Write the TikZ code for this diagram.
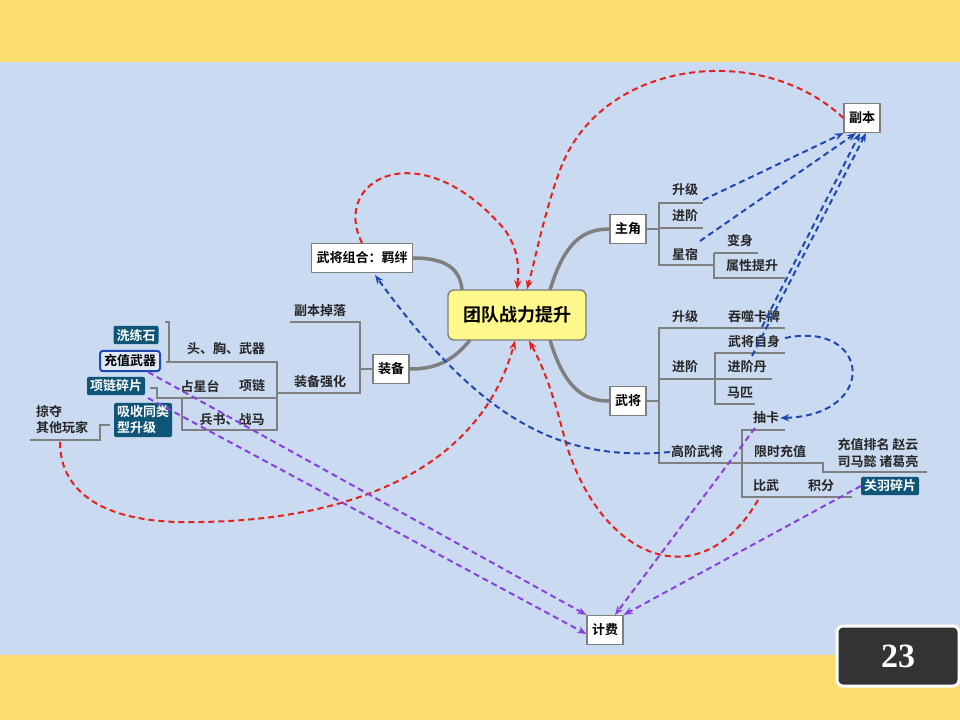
\documentclass[tikz,border=0pt]{standalone}
\usepackage{fontspec}
\setmainfont{Noto Sans CJK SC}
\newfontfamily\cjkb{Noto Sans CJK SC Bold}
\usetikzlibrary{arrows.meta}
\definecolor{bgblue}{HTML}{C9DAF1}
\definecolor{bgyel}{HTML}{FCDD6E}
\definecolor{teal}{HTML}{0E5578}
\definecolor{gline}{HTML}{7F7F7F}
\definecolor{rdash}{HTML}{E8201C}
\definecolor{bdash}{HTML}{1F49B0}
\definecolor{pdash}{HTML}{8A3FE0}
\begin{document}
\begin{tikzpicture}[x=1pt,y=-1pt,
 box/.style={draw=gline,fill=white,line width=1.2pt,font=\cjkb\fontsize{13}{14}\selectfont,inner sep=5pt,minimum height=29pt},
 lbl/.style={font=\cjkb\fontsize{13}{16}\selectfont,inner sep=1pt,text=black!85},
 tbox/.style={fill=teal,rounded corners=2pt,text=white,font=\cjkb\fontsize{13}{16}\selectfont,inner sep=3pt},
 tree/.style={draw=gline,line width=1.4pt},
 dsh/.style={dash pattern=on 6pt off 4pt,line width=2pt,-{Stealth[length=9pt,width=7pt]}},
 rd/.style={draw=rdash,dsh},
 bd/.style={draw=bdash,dsh},
 pd/.style={draw=pdash,dsh}]
\useasboundingbox (0,0) rectangle (960,720);
\fill[bgyel] (0,0) rectangle (960,720);
\fill[bgblue] (0,62) rectangle (960,655);
% main nodes
\node[draw=gline,fill=yellow!45,rounded corners=6pt,line width=1.4pt,minimum width=138pt,minimum height=50pt,font=\cjkb\fontsize{18}{20}\selectfont] (c) at (517,315) {团队战力提升};
\node[box] (zj) at (628,229) {主角};
\node[box] (wj) at (628,401) {武将};
\node[box] (zb) at (391,369) {装备};
\node[box] (jb) at (362,258) {武将组合：羁绊};
\node[box] (fb) at (862,118) {副本};
\node[box] (jf) at (605,630) {计费};
% thick branches
\draw[gline,line width=3.5pt] (462,290) .. controls (460,268) and (445,258) .. (jb.east);
\draw[gline,line width=3.5pt] (470,340) .. controls (450,365) and (430,369) .. (zb.east);
\draw[gline,line width=3.5pt] (550,290) .. controls (565,240) and (585,229) .. (zj.west);
\draw[gline,line width=3.5pt] (550,340) .. controls (565,390) and (585,401) .. (wj.west);
% 主角 subtree
\draw[tree] (zj.east) -- (659,229);
\draw[tree] (703,203) -- (659,203) -- (659,265) -- (714,265) -- (714,278) -- (785,278);
\draw[tree] (659,228) -- (703,228);
\draw[tree] (714,253) -- (758,253) (714,253)--(714,265);
\node[lbl] (sj1) at (685,190) {升级};
\node[lbl] (jj1) at (685,216) {进阶};
\node[lbl] (xs) at (685,254) {星宿};
\node[lbl] (bs) at (740,241) {变身};
\node[lbl] (sx) at (752,266) {属性提升};
% 武将 subtree
\draw[tree] (wj.east) -- (659,401);
\draw[tree] (785,328) -- (659,328) -- (659,463) -- (823,463) -- (823,472) -- (927,472);
\draw[tree] (659,379) -- (772,379);
\draw[tree] (785,353) -- (715,353) -- (715,404) -- (755,404);
\draw[tree] (785,430) -- (742,430) -- (742,497) -- (852,497);
\node[lbl] (sj2) at (685,317) {升级};
\node[lbl] (ts) at (754,317) {吞噬卡牌};
\node[lbl] (jj2) at (685,367) {进阶};
\node[lbl] (zs) at (754,342) {武将自身};
\node[lbl] (jjd) at (747,367) {进阶丹};
\node[lbl] (mp) at (740,393) {马匹};
\node[lbl] (gj) at (697,452) {高阶武将};
\node[lbl] (ck) at (766,418) {抽卡};
\node[lbl] (xc) at (780,452) {限时充值};
\node[lbl,align=left,font=\cjkb\fontsize{13}{17}\selectfont] (pm) at (878,453) {充值排名 赵云\\司马懿 诸葛亮};
\node[lbl] (bw) at (766,486) {比武};
\node[lbl] (jfen) at (821,486) {积分};
\node[tbox] (gy) at (890,486) {关羽碎片};
% 装备 subtree
\draw[tree] (zb.west) -- (360,369);
\draw[tree] (290,322) -- (360,322) -- (360,393) -- (277,393);
\draw[tree] (166,362) -- (277,362) -- (277,430) -- (182,430) -- (182,398);
\draw[tree] (277,398) -- (157,398) -- (157,388) -- (150,388);
\draw[tree] (165,322) -- (169,322) -- (169,362);
\draw[tree] (30,440) -- (100,440) -- (100,425) -- (110,425);
\node[lbl] (fbd) at (320,311) {副本掉落};
\node[lbl] (zbq) at (320,382) {装备强化};
\node[lbl] (tx) at (226,349) {头、胸、武器};
\node[lbl] (zxt) at (200,386) {占星台};
\node[lbl] (xl) at (252,386) {项链};
\node[lbl] (bsz) at (232,420) {兵书、战马};
\node[tbox] (xls) at (136,335) {洗练石};
\node[draw=bdash,line width=2pt,fill=bgblue!60,rounded corners=3pt,font=\cjkb\fontsize{13}{16}\selectfont,inner sep=4pt] (czwq) at (130,361) {充值武器};
\node[tbox] (xlsp) at (116,386) {项链碎片};
\node[tbox,align=left] (xs2) at (143,420) {吸收同类\\型升级};
\node[lbl,align=left] (ld) at (62,420) {掠夺\\其他玩家};
% red dashed
\draw[rd] (jb.north) .. controls (330,180) and (420,130) .. (505,230) .. controls (515,245) and (520,260) .. (c.north);
\draw[rd] (fb.west) .. controls (760,40) and (600,60) .. (560,170) .. controls (545,210) and (535,260) .. ([xshift=10pt]c.north);
\draw[rd] (60,442) .. controls (60,490) and (100,525) .. (200,522) .. controls (350,520) and (480,470) .. ([xshift=-2pt]c.south);
\draw[rd] (758,500) .. controls (700,600) and (600,560) .. (565,440) .. controls (555,400) and (545,370) .. ([xshift=12pt]c.south);
% blue dashed
\draw[bd] (703,200) -- (fb.south west);
\draw[bd] (700,241) -- ([xshift=-6pt]fb.south);
\draw[bd] (762,327) -- ([xshift=-2pt]fb.south);
\draw[bd] (752,356) -- ([xshift=4pt]fb.south);
\draw[bd] (785,338) .. controls (870,320) and (880,415) .. (ck.east);
\draw[bd] (gj.west) .. controls (560,462) and (480,420) .. (375,275);
% purple dashed
\draw[pd] (148,372) -- (jf.north west);
\draw[pd] (148,398) -- ([yshift=-4pt]jf.west);
\draw[pd] (755,428) -- ([xshift=10pt]jf.north);
\draw[pd] (gy.west) -- (jf.north east);
% badge
\node[draw=white,line width=3pt,fill=black!80,rounded corners=6pt,minimum width=122pt,minimum height=60pt,text=white] (pg) at (898,656) {\fontspec{Liberation Serif}\bfseries\fontsize{34}{36}\selectfont 23};
\end{tikzpicture}
\end{document}
